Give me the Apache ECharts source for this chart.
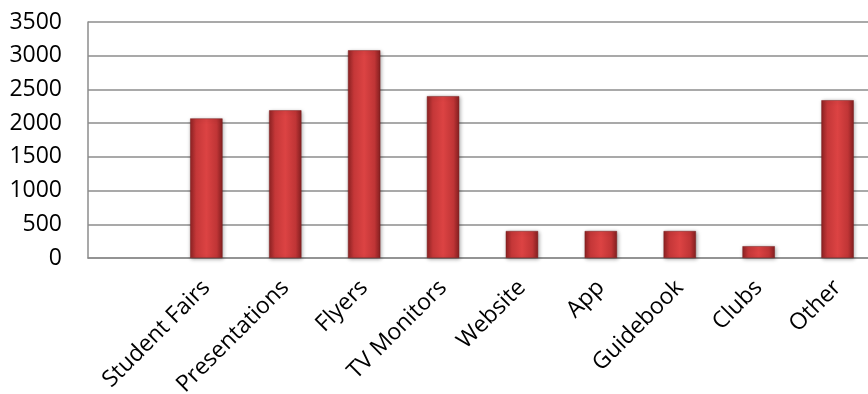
<!DOCTYPE html>
<html>
<head>
<meta charset="utf-8">
<script src="https://cdn.jsdelivr.net/npm/echarts@6/dist/echarts.min.js"></script>
<style>
  html, body { margin: 0; padding: 0; background: #fff; }
  #chart { width: 868px; height: 394px; }
</style>
</head>
<body>
<div id="chart"></div>
<script>
// Outreach channels (leading blank slot kept as in the source sheet)
const categories = ['', 'Student Fairs', 'Presentations', 'Flyers', 'TV Monitors', 'Website', 'App', 'Guidebook', 'Clubs', 'Other'];
const counts = [null, 2070, 2190, 3080, 2400, 400, 400, 400, 175, 2340];
const yTicks = { min: 0, max: 3500, interval: 500 };

const chart = echarts.init(document.getElementById('chart'), null, { renderer: 'canvas' });

const barFill = new echarts.graphic.LinearGradient(0, 0, 1, 0, [
  { offset: 0, color: '#8f2324' },
  { offset: 0.18, color: '#c43738' },
  { offset: 0.5, color: '#dc4343' },
  { offset: 0.82, color: '#c03536' },
  { offset: 1, color: '#862021' }
]);

chart.setOption({
  animation: false,
  grid: {
    left: 88, right: -9, top: 22, bottom: 136,
    containLabel: false,
    outerBoundsMode: 'none'
  },
  xAxis: {
    type: 'category',
    data: categories,
    axisLine: { show: true, lineStyle: { color: '#8c8c8c', width: 1.5 } },
    axisTick: { show: false },
    axisLabel: {
      interval: 0,
      rotate: 45,
      margin: 26,
      fontFamily: 'Open Sans',
      fontSize: 23,
      color: '#000'
    }
  },
  yAxis: {
    type: 'value',
    min: yTicks.min,
    max: yTicks.max,
    interval: yTicks.interval,
    axisLine: { show: true, lineStyle: { color: '#8c8c8c', width: 1.5 } },
    axisTick: { show: false },
    splitLine: { show: true, lineStyle: { color: '#8c8c8c', width: 1.5 } },
    axisLabel: {
      margin: 26,
      fontFamily: 'Open Sans',
      fontSize: 23,
      color: '#000',
      formatter: v => String(v)
    }
  },
  series: [{
    type: 'bar',
    data: counts,
    barWidth: '41%',
    itemStyle: {
      color: barFill,
      borderColor: '#7a1c1d',
      borderWidth: 0.5,
      shadowColor: 'rgba(0,0,0,0.35)',
      shadowBlur: 4,
      shadowOffsetX: 1,
      shadowOffsetY: 1
    }
  }]
});
</script>
</body>
</html>
